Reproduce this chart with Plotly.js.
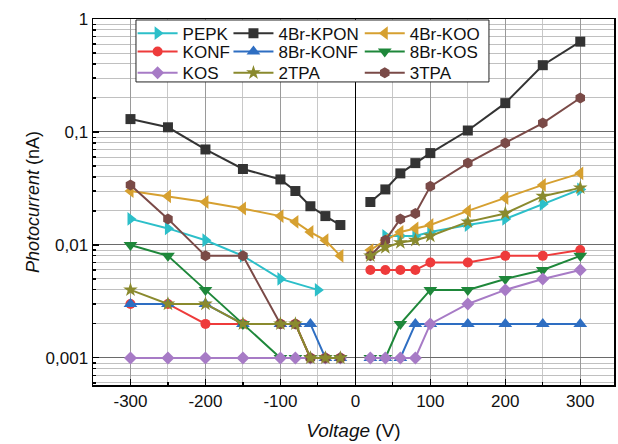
<!DOCTYPE html>
<html>
<head>
<meta charset="utf-8">
<script src="https://cdn.plot.ly/plotly-3.0.1.min.js"></script>
<style>html,body{margin:0;padding:0;background:#fff;}#chart{width:618px;height:444px;}</style>
</head>
<body>
<div id="chart"></div>
<script>
// Voltage (V) values; null separates negative and positive branches
const xPEPK   = [-300,-250,-200,-150,-100,-50, 0, 40,60,80,100,150,200,250,300];
const yPEPK   = [0.017,0.014,0.011,0.008,0.005,0.004, null, 0.012,0.012,0.012,0.013,0.015,0.017,0.023,0.031];

const xFull   = [-300,-250,-200,-150,-100,-80,-60,-40,-20, 0, 20,40,60,80,100,150,200,250,300];
const yKPON   = [0.13,0.11,0.07,0.047,0.038,0.03,0.022,0.018,0.015, null, 0.024,0.031,0.043,0.053,0.065,0.103,0.18,0.39,0.63];
const yKOO    = [0.030,0.027,0.024,0.021,0.018,0.016,0.013,0.011,0.008, null, 0.009,0.011,0.013,0.014,0.015,0.020,0.026,0.034,0.043];
const yKONF   = [0.003,0.003,0.002,0.002,0.002,0.002,0.001,0.001,0.001, null, 0.006,0.006,0.006,0.006,0.007,0.007,0.008,0.008,0.009];
const y8KONF  = [0.003,0.003,0.003,0.002,0.002,0.002,0.002,0.001,0.001, null, 0.001,0.001,0.001,0.002,0.002,0.002,0.002,0.002,0.002];
const yKOS    = [0.001,0.001,0.001,0.001,0.001,0.001,0.001,0.001,0.001, null, 0.001,0.001,0.001,0.001,0.002,0.003,0.004,0.005,0.006];
const y2TPA   = [0.004,0.003,0.003,0.002,0.002,0.002,0.001,0.001,0.001, null, 0.008,0.0095,0.0105,0.011,0.012,0.016,0.019,0.027,0.032];
const y3TPA   = [0.034,0.017,0.008,0.008,0.002,0.002,0.001,0.001,0.001, null, 0.008,0.011,0.017,0.019,0.033,0.053,0.080,0.12,0.20];

const x8KOS   = [-300,-250,-200,-150,-100,-80,-60,-40,-20, 0, 20,40,60,100,150,200,250,300];
const y8KOS   = [0.010,0.008,0.004,0.002,0.001,0.001,0.001,0.001,0.001, null, 0.001,0.001,0.002,0.004,0.004,0.005,0.006,0.008];

const xTickVals = [-300, -200, -100, 0, 100, 200, 300];
const xTickText = ['-300', '-200', '-100', '0', '100', '200', '300'];
const yTickVals = [0.001, 0.01, 0.1, 1];
const yTickText = ['0,001', '0,01', '0,1', '1'];

const FONT = "'Liberation Sans', Arial, sans-serif";

function tr(name, x, y, color, symbol, size, legend) {
  return {
    type: 'scatter', mode: 'lines+markers', name: name, x: x, y: y,
    connectgaps: false, legend: legend,
    line: {color: color, width: 2},
    marker: {color: color, symbol: symbol, size: size, line: {width: 0}}
  };
}

const data = [
  tr('PEPK', xPEPK, yPEPK, '#2CBFC9', 'triangle-right', 12, 'legend'),
  tr('4Br-KPON', xFull, yKPON, '#333333', 'square', 10, 'legend2'),
  tr('4Br-KOO', xFull, yKOO, '#D6A030', 'triangle-left', 12, 'legend3'),
  tr('KONF', xFull, yKONF, '#EE3B3B', 'circle', 10, 'legend4'),
  tr('8Br-KONF', xFull, y8KONF, '#2E6EC2', 'triangle-up', 12, 'legend5'),
  tr('8Br-KOS', x8KOS, y8KOS, '#1E873A', 'triangle-down', 12, 'legend6'),
  tr('KOS', xFull, yKOS, '#A77BC6', 'diamond', 10, 'legend7'),
  tr('3TPA', xFull, y3TPA, '#7A4A47', 'hexagon', 11, 'legend9'),
  tr('2TPA', xFull, y2TPA, '#8A8A2E', 'star', 11, 'legend8')
];

const legFont = {family: FONT, size: 17, color: '#111'};
function leg(x, y) {
  return {x: x, y: y, xanchor: 'left', yanchor: 'middle', bgcolor: 'rgba(0,0,0,0)',
          borderwidth: 0, font: legFont, itemwidth: 40, tracegroupgap: 0};
}
const colX = [0.076, 0.260, 0.512];
const rowY = [0.960, 0.910, 0.852];

const layout = {
  width: 618, height: 444,
  margin: {l: 93, r: 4, t: 19, b: 59},
  paper_bgcolor: '#fff', plot_bgcolor: '#fff',
  font: {family: FONT, size: 17, color: '#111'},
  showlegend: true,
  legend:  leg(colX[0], rowY[0]),
  legend2: leg(colX[1], rowY[0]),
  legend3: leg(colX[2], rowY[0]),
  legend4: leg(colX[0], rowY[1]),
  legend5: leg(colX[1], rowY[1]),
  legend6: leg(colX[2], rowY[1]),
  legend7: leg(colX[0], rowY[2]),
  legend8: leg(colX[1], rowY[2]),
  legend9: leg(colX[2], rowY[2]),
  xaxis: {
    range: [-350, 345], tickmode: 'array', tickvals: xTickVals, ticktext: xTickText,
    ticks: 'inside', ticklen: 6, tickcolor: '#000', tickwidth: 1.2,
    showline: true, linecolor: '#000', linewidth: 1.5, mirror: true,
    showgrid: true, gridcolor: '#9a9a9a', gridwidth: 1,
    zeroline: true, zerolinecolor: '#000', zerolinewidth: 1.5,
    minor: {dtick: 50, tick0: 0, ticks: 'inside', ticklen: 3, tickcolor: '#000', showgrid: true, gridcolor: '#c8c8c8', gridwidth: 1},
    tickfont: {size: 17},
    title: {text: '<i>Voltage</i> (V)', font: {size: 19}, standoff: 14}
  },
  yaxis: {
    type: 'log', range: [-3.24, 0],
    tickmode: 'array', tickvals: yTickVals, ticktext: yTickText,
    ticks: 'inside', ticklen: 6, tickcolor: '#000', tickwidth: 1.2,
    showline: true, linecolor: '#000', linewidth: 1.5, mirror: true,
    showgrid: true, gridcolor: '#6a6a6a', gridwidth: 1,
    zeroline: false,
    minor: {dtick: 'D1', ticks: 'inside', ticklen: 3, tickcolor: '#000', showgrid: true, gridcolor: '#c0c0c0', gridwidth: 1},
    tickfont: {size: 17},
    title: {text: '<i>Photocurrent</i> (nA)', font: {size: 18}, standoff: 1}
  },
  shapes: [{
    type: 'rect', xref: 'paper', yref: 'paper', layer: 'above',
    x0: 0.0825, x1: 0.760, y0: 0.828, y1: 0.9973,
    fillcolor: '#fff', line: {color: '#222', width: 1}
  }]
};

Plotly.newPlot('chart', data, layout, {displayModeBar: false, staticPlot: true});
</script>
</body>
</html>
